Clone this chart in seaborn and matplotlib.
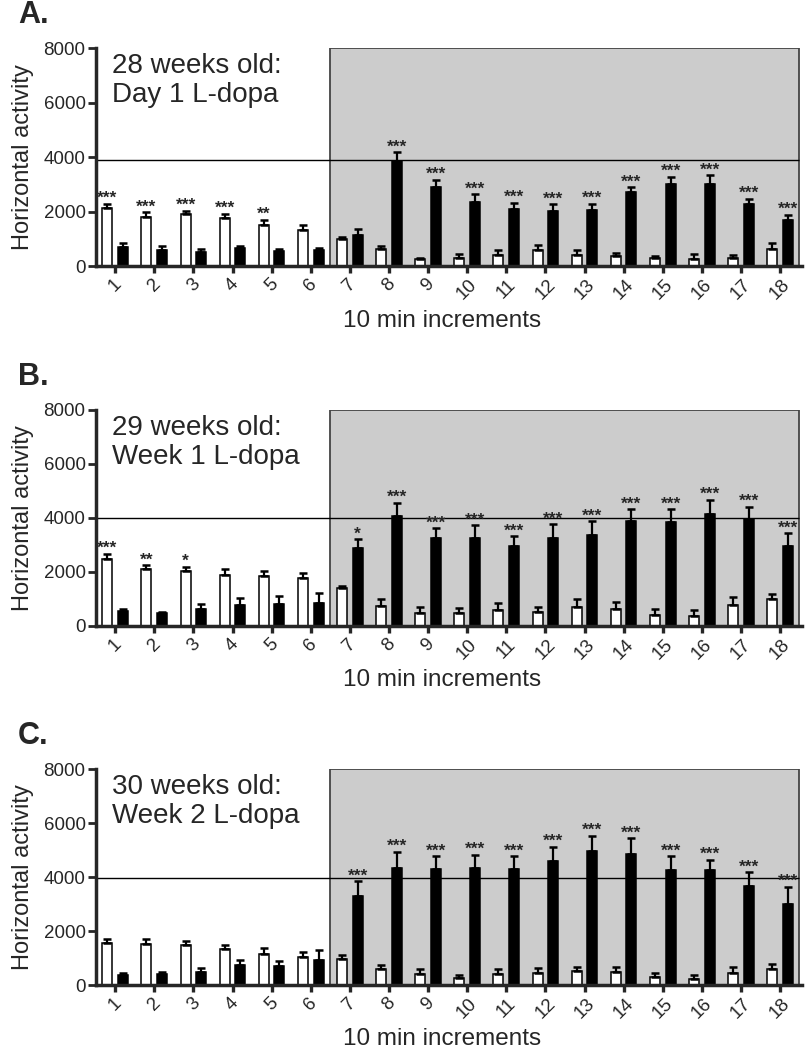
import numpy as np
import pandas as pd
import matplotlib
matplotlib.use('Agg')
import matplotlib.pyplot as plt
from matplotlib.patches import Rectangle
import seaborn as sns

sns.set_style('ticks')
plt.rcParams['font.family'] = ['Liberation Sans', 'DejaVu Sans']

# 10 min increments
intervals = list(range(1, 19))
groups = ['Control', 'L-dopa']

# panel A: 28 weeks old, day 1 L-dopa
a_ctrl = [2120, 1810, 1900, 1750, 1510, 1320, 980, 610, 245, 280, 400, 590, 415, 370, 280, 270, 295, 610]
a_ctrl_sem = [160, 160, 130, 160, 180, 190, 100, 140, 60, 150, 175, 180, 175, 120, 100, 180, 105, 220]
a_ldopa = [710, 590, 500, 650, 550, 590, 1120, 3840, 2890, 2360, 2100, 2020, 2070, 2700, 3000, 3000, 2260, 1700]
a_ldopa_sem = [120, 160, 110, 100, 90, 80, 230, 330, 270, 280, 220, 255, 220, 190, 280, 330, 210, 180]
a_ctrl_stars = ['***', '***', '***', '***', '**'] + [''] * 13
a_ldopa_stars = [''] * 7 + ['***'] * 11

# panel B: 29 weeks old, week 1 L-dopa
b_ctrl = [2480, 2100, 2040, 1900, 1860, 1780, 1400, 750, 480, 480, 580, 505, 715, 640, 395, 360, 780, 1010]
b_ctrl_sem = [190, 160, 160, 200, 190, 195, 90, 240, 210, 170, 260, 210, 275, 260, 225, 230, 290, 175]
b_ldopa = [555, 470, 620, 780, 830, 850, 2880, 4070, 3270, 3260, 2975, 3270, 3380, 3880, 3840, 4160, 3975, 2960]
b_ldopa_sem = [75, 60, 180, 270, 290, 360, 340, 500, 360, 470, 355, 495, 510, 450, 480, 510, 435, 470]
b_ctrl_stars = ['***', '**', '*'] + [''] * 15
b_ldopa_stars = [''] * 6 + ['*'] + ['***'] * 11

# panel C: 30 weeks old, week 2 L-dopa
c_ctrl = [1550, 1530, 1470, 1330, 1150, 1035, 950, 590, 420, 260, 395, 445, 505, 470, 295, 235, 445, 580]
c_ctrl_sem = [150, 170, 145, 160, 205, 185, 170, 150, 160, 120, 185, 185, 160, 210, 150, 145, 210, 195]
c_ldopa = [380, 405, 470, 730, 690, 935, 3305, 4350, 4290, 4315, 4300, 4575, 4945, 4835, 4265, 4255, 3660, 2995]
c_ldopa_sem = [50, 75, 145, 180, 210, 370, 530, 580, 480, 505, 460, 540, 580, 605, 495, 380, 510, 645]
c_ctrl_stars = [''] * 18
c_ldopa_stars = [''] * 6 + ['***'] * 12

panel_letters = ['A.', 'B.', 'C.']
panel_titles = ['28 weeks old:\nDay 1 L-dopa', '29 weeks old:\nWeek 1 L-dopa', '30 weeks old:\nWeek 2 L-dopa']
ref_lines = [3900, 4000, 3950]
ldopa_from = 7  # shaded block starts at this increment

panels = [
    (a_ctrl, a_ctrl_sem, a_ldopa, a_ldopa_sem, a_ctrl_stars, a_ldopa_stars),
    (b_ctrl, b_ctrl_sem, b_ldopa, b_ldopa_sem, b_ctrl_stars, b_ldopa_stars),
    (c_ctrl, c_ctrl_sem, c_ldopa, c_ldopa_sem, c_ctrl_stars, c_ldopa_stars),
]

fig = plt.figure(figsize=(8.12, 10.5), dpi=100)
H = 1050.0
# pixel rows of y=8000 and y=0 for each panel
rows = [(48, 266), (410, 626), (769, 985)]

for i, (ctrl, ctrl_sem, ldopa, ldopa_sem, ctrl_st, ldopa_st) in enumerate(panels):
    top, bot = rows[i]
    ax = fig.add_axes([96 / 812, 1 - bot / H, 706 / 812, (bot - top) / H])

    df = pd.DataFrame({
        'interval': intervals * 2,
        'group': [groups[0]] * 18 + [groups[1]] * 18,
        'activity': ctrl + ldopa,
    })
    sns.barplot(data=df, x='interval', y='activity', hue='group', hue_order=groups,
                palette={'Control': 'white', 'L-dopa': 'black'}, edgecolor='black',
                linewidth=1.1, width=0.8, gap=0.36, errorbar=None, legend=False,
                zorder=2, ax=ax)

    xmin, xmax = -0.49, 17.56
    box_left = intervals.index(ldopa_from) - 0.5
    box_right = len(intervals) - 0.51
    ax.add_patch(Rectangle((box_left, 0), box_right - box_left, 8000, facecolor='#cccccc',
                           edgecolor='#444444', linewidth=1.3, zorder=0.5))
    ax.hlines(ref_lines[i], xmin, box_right, color='black', linewidth=1.0, zorder=1)

    for cont, means, sems, stars in [(ax.containers[0], ctrl, ctrl_sem, ctrl_st),
                                     (ax.containers[1], ldopa, ldopa_sem, ldopa_st)]:
        xs = [b.get_x() + b.get_width() / 2 for b in cont]
        ax.errorbar(xs, means, yerr=[np.zeros(len(sems)), sems], fmt='none', ecolor='black',
                    elinewidth=1.6, capsize=3, capthick=1.8, zorder=3)
        for x, m, s, st in zip(xs, means, sems, stars):
            if st:
                ax.annotate(st, (x, m + s), xytext=(0, 0.5), textcoords='offset points',
                            ha='center', va='baseline', fontsize=12.5, fontweight='bold',
                            zorder=4)

    ax.set_xlim(xmin, xmax)
    ax.set_ylim(0, 8000)
    ax.set_yticks([0, 2000, 4000, 6000, 8000])
    ax.set_xticks(range(len(intervals)))
    ax.set_xticklabels([str(v) for v in intervals], rotation=45, ha='center')
    sns.despine(ax=ax)
    ax.spines['left'].set_linewidth(2.5)
    ax.spines['bottom'].set_linewidth(2.5)
    ax.spines['bottom'].set_zorder(5)
    ax.tick_params(axis='y', length=6, width=2, pad=1.5, labelsize=13.5)
    ax.tick_params(axis='x', length=5, width=2.4, pad=2, labelsize=13.5)
    ax.set_ylabel('Horizontal activity', fontsize=17, labelpad=7)
    ax.set_xlabel('10 min increments', fontsize=17.5, labelpad=7)
    ax.xaxis.set_label_coords(0.49, -0.2)
    ax.xaxis.label.set_va('top')

    ax.text(0.022, 0.975, panel_titles[i], transform=ax.transAxes, ha='left', va='top',
            fontsize=20, linespacing=1.15)
    fig.text(18 / 812, 1 - max(top - 48, 0) / H, panel_letters[i], ha='left', va='top',
             fontsize=22, fontweight='bold')

fig.savefig('out.png', dpi=100)
